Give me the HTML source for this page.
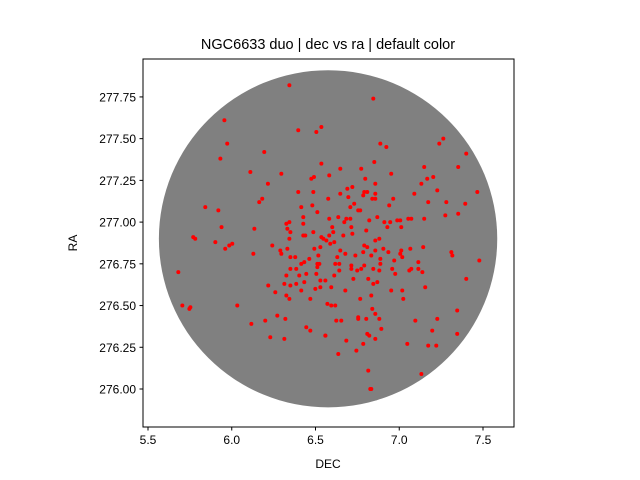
<!DOCTYPE html>
<html><head><meta charset="utf-8"><style>
body{margin:0;background:#fff;}
svg{display:block;font-family:"Liberation Sans","DejaVu Sans",sans-serif;}
</style></head><body>
<svg id="chart" width="640" height="480">
<rect x="0" y="0" width="640" height="480" fill="#fff"/>
<g id="plot"></g>
<rect x="143" y="59" width="371" height="368" fill="none" stroke="#000" stroke-width="1"/>
<g id="axes"></g>
<text x="328" y="49" font-size="14.5" text-anchor="middle">NGC6633 duo | dec vs ra | default color</text>
<text x="328" y="468" font-size="12" text-anchor="middle">DEC</text>
<text x="77" y="243" font-size="12" text-anchor="middle" transform="rotate(-90 77 243)">RA</text>
</svg>
<script>
const xTicks=[5.5,6.0,6.5,7.0,7.5];
const xTickLabels=["5.5","6.0","6.5","7.0","7.5"];
const yTicks=[276.00,276.25,276.50,276.75,277.00,277.25,277.50,277.75];
const yTickLabels=["276.00","276.25","276.50","276.75","277.00","277.25","277.50","277.75"];
const fieldCenter=[6.575,276.9];
const fieldRadius=[1.01];
const decValues=[6.344,5.956,5.973,5.932,6.194,6.397,6.505,6.535,6.111,6.296,6.216,6.535,6.475,6.491,6.397,6.487,6.182,6.164,5.842,5.920,6.415,6.481,6.511,6.427,6.326,6.344,6.427,5.939,6.135,6.332,6.350,6.487,6.427,6.439,6.344,5.770,5.782,6.535,6.547,5.902,6.003,5.985,5.961,6.242,6.332,6.493,6.529,6.290,6.296,6.129,6.350,6.379,6.517,6.463,6.433,6.415,6.511,6.523,6.511,6.350,6.385,5.681,6.445,6.505,6.326,6.403,6.529,6.559,6.314,6.385,6.433,6.350,6.218,6.499,6.529,6.415,6.260,6.326,6.344,6.469,6.571,5.705,5.753,5.747,6.033,6.272,6.320,6.200,6.117,6.445,6.469,6.559,6.230,6.314,
6.845,6.887,6.923,7.263,7.239,7.400,6.851,6.648,6.773,7.149,7.352,6.582,6.952,6.797,7.167,7.203,7.132,6.857,6.720,6.690,6.791,6.809,6.857,6.648,6.785,6.839,6.857,6.964,6.696,6.576,7.227,7.090,7.466,7.281,7.173,7.394,6.940,6.731,6.708,6.755,6.767,7.275,7.352,6.582,6.636,6.708,6.684,6.869,6.821,6.988,7.006,7.054,7.072,7.149,6.672,6.911,6.946,6.929,7.012,6.600,6.714,6.803,6.606,6.720,6.666,6.582,6.565,6.612,6.588,6.857,6.881,6.791,6.809,7.143,6.648,6.678,6.738,6.785,6.857,6.905,6.935,6.833,7.012,7.006,7.018,7.066,7.311,7.317,7.478,6.630,6.970,6.887,6.887,7.114,6.618,6.642,6.714,6.791,6.714,6.749,6.773,6.845,6.881,6.958,6.976,7.060,7.072,7.114,7.138,6.642,6.612,6.726,6.815,6.869,6.845,7.400,6.594,7.155,6.678,6.952,7.018,6.767,6.833,7.024,6.594,6.618,6.839,6.857,6.881,6.755,6.755,6.803,6.624,6.654,7.096,7.227,7.346,6.893,7.197,7.346,6.559,6.684,6.809,6.821,6.857,6.785,7.048,7.173,7.221,6.744,6.636,6.815,7.132,6.827,6.833];
const raValues=[277.82,277.61,277.47,277.38,277.42,277.55,277.54,277.57,277.30,277.29,277.23,277.35,277.26,277.27,277.18,277.18,277.14,277.12,277.09,277.07,277.09,277.10,277.06,277.03,276.99,277.00,276.99,276.97,276.96,276.96,276.94,276.94,276.92,276.92,276.90,276.91,276.90,276.91,276.90,276.88,276.87,276.86,276.84,276.86,276.84,276.84,276.85,276.83,276.81,276.81,276.79,276.79,276.80,276.78,276.76,276.75,276.75,276.75,276.73,276.72,276.72,276.70,276.69,276.69,276.68,276.68,276.65,276.65,276.63,276.63,276.64,276.62,276.62,276.60,276.61,276.59,276.58,276.56,276.54,276.54,276.51,276.50,276.49,276.48,276.50,276.44,276.42,276.41,276.39,276.37,276.35,276.32,276.31,276.30,
277.74,277.47,277.45,277.50,277.47,277.41,277.36,277.32,277.32,277.33,277.33,277.28,277.29,277.26,277.26,277.27,277.23,277.23,277.21,277.20,277.18,277.18,277.17,277.17,277.16,277.14,277.14,277.14,277.15,277.14,277.19,277.17,277.18,277.12,277.12,277.11,277.10,277.11,277.09,277.07,277.07,277.04,277.05,277.02,277.03,277.02,277.02,277.03,277.01,277.01,277.01,277.02,277.02,277.02,277.00,277.00,277.00,276.97,276.97,276.97,276.97,276.95,276.94,276.93,276.92,276.92,276.89,276.88,276.87,276.89,276.90,276.86,276.85,276.85,276.83,276.81,276.80,276.82,276.83,276.84,276.82,276.80,276.83,276.81,276.79,276.84,276.82,276.80,276.77,276.79,276.77,276.78,276.75,276.76,276.75,276.75,276.74,276.74,276.72,276.71,276.72,276.72,276.71,276.72,276.69,276.71,276.72,276.72,276.70,276.71,276.68,276.66,276.66,276.64,276.63,276.66,276.61,276.61,276.59,276.59,276.59,276.54,276.56,276.54,276.50,276.50,276.48,276.45,276.42,276.43,276.42,276.42,276.41,276.41,276.41,276.42,276.47,276.36,276.35,276.33,276.32,276.29,276.33,276.32,276.30,276.27,276.27,276.26,276.26,276.23,276.21,276.11,276.09,276.00,276.00];
const NS="http://www.w3.org/2000/svg";
function xs(v){return 148+(v-5.5)*167.5;}
function ys(v){return 389-(v-276)*166.9;}
const plot=document.getElementById('plot');
const axes=document.getElementById('axes');
function mk(t,a,p){const e=document.createElementNS(NS,t);for(const k in a)e.setAttribute(k,a[k]);p.appendChild(e);return e;}
const disk=mk('ellipse',{cx:xs(fieldCenter[0]),cy:ys(fieldCenter[1]),rx:fieldRadius[0]*167.5,ry:fieldRadius[0]*166.9,fill:'#808080'},plot);


for(let i=0;i<decValues.length;i++){
 const c=mk('circle',{cx:xs(decValues[i]),cy:ys(raValues[i]),r:2,fill:'#ff0000'},plot);
 
 
}
xTicks.forEach((v,i)=>{
 const l=mk('line',{x1:xs(v),x2:xs(v),y1:427,y2:430.5,stroke:'#000'},axes);
 
 
 const t=mk('text',{x:xs(v),y:444,'font-size':12,'text-anchor':'middle'},axes);
 t.textContent=xTickLabels[i];
 
 
});
yTicks.forEach((v,i)=>{
 const l=mk('line',{x1:139.5,x2:143,y1:ys(v),y2:ys(v),stroke:'#000'},axes);
 
 
 const t=mk('text',{x:136,y:ys(v)+4.5,'font-size':12,'text-anchor':'end'},axes);
 t.textContent=yTickLabels[i];
 
 
});
</script>
</body></html>
